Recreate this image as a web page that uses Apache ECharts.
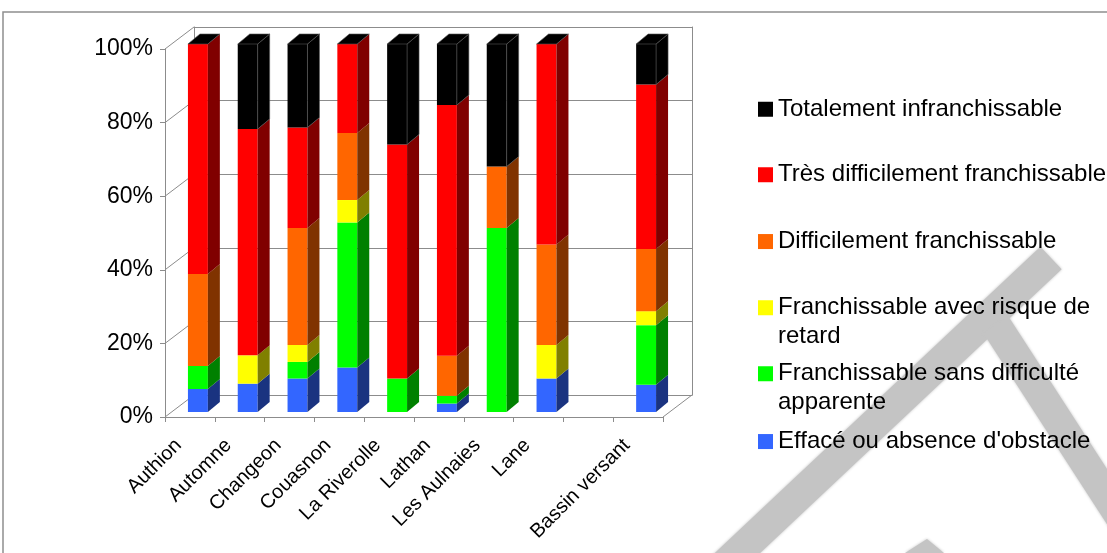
<!DOCTYPE html>
<html>
<head>
<meta charset="utf-8">
<script src="https://cdn.jsdelivr.net/npm/echarts@6/dist/echarts.min.js"></script>
<style>
  html, body { margin: 0; padding: 0; background: #ffffff; }
  #chart { width: 1107px; height: 553px; }
</style>
</head>
<body>
<div id="chart"></div>
<script>
// Rivers (and the whole catchment), with an empty slot before the total
const categories = ['Authion', 'Automne', 'Changeon', 'Couasnon', 'La Riverolle', 'Lathan', 'Les Aulnaies', 'Lane', '', 'Bassin versant'];

// Share of obstacles per passability class, in %, bottom of stack first
const effaceValues          = [6.25, 7.7, 9.1, 12.1, 0,    2.3,  0,    9.1,  null, 7.4];
const sansDifficulteValues  = [6.25, 0,   4.5, 39.4, 9.1,  2.1,  50,   0,    null, 16.2];
const risqueRetardValues    = [0,    7.7, 4.6, 6.1,  0,    0,    0,    9.1,  null, 3.8];
const difficileValues       = [25,   0,   31.8, 18.2, 0,   10.9, 16.7, 27.3, null, 16.9];
const tresDifficileValues   = [62.5, 61.5, 27.3, 24.2, 63.6, 68.1, 0,  54.5, null, 44.7];
const infranchissableValues = [0,    23.1, 22.7, 0,   27.3, 16.6, 33.3, 0,   null, 11.0];

const seriesNames = [
  "Effacé ou absence d'obstacle",
  'Franchissable sans difficulté apparente',
  'Franchissable avec risque de retard',
  'Difficilement franchissable',
  'Très difficilement franchissable',
  'Totalement infranchissable'
];
const seriesValues = [effaceValues, sansDifficulteValues, risqueRetardValues, difficileValues, tresDifficileValues, infranchissableValues];
const yTicks = [0, 20, 40, 60, 80, 100];

const FONT = "'Liberation Sans', Arial, sans-serif";
const faceColors = ['#3366ff', '#00ff00', '#ffff00', '#ff6600', '#ff0000', '#000000'];
const sideColors = ['#1a3380', '#008000', '#808000', '#803300', '#800000', '#000000'];

// oblique depth of the bars and of the box
const BAR_DX = 12, BAR_DY = -10;
const BOX_DX = 29, BOX_DY = -22;

// stacked [category, base, top] triples for each class
const stacked = seriesValues.map(() => []);
categories.forEach((c, i) => {
  let base = 0;
  seriesValues.forEach((vals, s) => {
    const v = vals[i];
    if (v == null) return;
    stacked[s].push([i, base, base + v]);
    base += v;
  });
});

function barRenderer(s) {
  const isTop = s === seriesValues.length - 1;
  return function (params, api) {
    const i = api.value(0), b = api.value(1), t = api.value(2);
    const pb = api.coord([i, b]);
    const pt = api.coord([i, t]);
    const w = api.size([1, 0])[0] * 0.4;
    const x0 = pb[0] - w / 2, x1 = pb[0] + w / 2;
    const children = [];
    if (t > b) {
      children.push({
        type: 'rect',
        shape: { x: x0, y: pt[1], width: w, height: pb[1] - pt[1] },
        style: { fill: faceColors[s] }
      });
      children.push({
        type: 'polygon',
        shape: { points: [[x1, pb[1]], [x1, pt[1]], [x1 + BAR_DX, pt[1] + BAR_DY], [x1 + BAR_DX, pb[1] + BAR_DY]] },
        style: { fill: sideColors[s], stroke: isTop ? '#555' : null, lineWidth: 0.6 }
      });
    }
    if (isTop) {
      children.push({
        type: 'polygon',
        shape: { points: [[x0, pt[1]], [x0 + BAR_DX, pt[1] + BAR_DY], [x1 + BAR_DX, pt[1] + BAR_DY], [x1, pt[1]]] },
        style: { fill: '#000000', stroke: '#555', lineWidth: 0.6 }
      });
    }
    return { type: 'group', children };
  };
}

// diagonal edges joining the front axis to the back wall
function boxRenderer(params, api) {
  const cs = params.coordSys;
  const v = api.value(1);
  const y = api.coord([0, v])[1];
  const lines = [{
    type: 'line',
    shape: { x1: cs.x, y1: y, x2: cs.x + BOX_DX, y2: y + BOX_DY },
    style: { stroke: '#8c8c8c', lineWidth: 1 }
  }];
  if (v === 0) {
    lines.push({
      type: 'line',
      shape: { x1: cs.x + cs.width, y1: y, x2: cs.x + cs.width + BOX_DX, y2: y + BOX_DY },
      style: { stroke: '#8c8c8c', lineWidth: 1 }
    });
  }
  return { type: 'group', children: lines };
}

// legend: one block per class, marker level with the first text line
const legendCenters = [108, 173.5, 240.3, 307.7, 373.8, 440.3];
const legendLines = {
  'Franchissable avec risque de retard': 'Franchissable avec risque de\nretard',
  'Franchissable sans difficulté apparente': 'Franchissable sans difficulté\napparente'
};
const LEGEND_LH = 29;
// square marker sitting at the top of a tall (two-line) item box
const TALL_MARKER = 'path://M0,0L15,0L15,15L0,15Z M0,43.95L0.05,43.95L0.05,44L0,44Z';
const legendOrder = seriesNames.slice().reverse();
const legends = legendOrder.map((name, k) => {
  const twoLines = !!legendLines[name];
  return {
    orient: 'vertical',
    left: 758,
    top: twoLines ? legendCenters[k] - 14.5 : legendCenters[k] - 13.25,
    padding: 0,
    itemWidth: 15,
    itemHeight: twoLines ? 44 : 15,
    icon: twoLines ? TALL_MARKER : 'rect',
    selectedMode: false,
    data: [name],
    formatter: n => legendLines[n] || n,
    textStyle: { fontFamily: FONT, fontSize: 24, color: '#000', lineHeight: LEGEND_LH }
  };
});

const option = {
  animation: false,
  backgroundColor: '#ffffff',
  textStyle: { fontFamily: FONT },
  graphic: [
    // soft grey strokes in the background
    { type: 'polyline', z: -5, silent: true,
      shape: { points: [[712, 577], [1051, 258]] },
      style: { stroke: '#c4c4c4', lineWidth: 31, lineCap: 'butt', shadowBlur: 3, shadowColor: '#c4c4c4' } },
    { type: 'polyline', z: -5, silent: true,
      shape: { points: [[996, 325], [1150, 563]] },
      style: { stroke: '#c4c4c4', lineWidth: 30, lineCap: 'butt', shadowBlur: 3, shadowColor: '#c4c4c4' } },
    { type: 'polygon', z: -5, silent: true,
      shape: { points: [[905, 553], [927, 539], [944, 553]] },
      style: { fill: '#c4c4c4', shadowBlur: 3, shadowColor: '#c4c4c4' } },
    // outer frame
    { type: 'rect', z: -4, silent: true,
      shape: { x: 3, y: 12, width: 1300, height: 700 },
      style: { fill: null, stroke: '#8f8f8f', lineWidth: 1.5 } }
  ],
  legend: legends,
  grid: [
    { left: 165, top: 49, width: 498, height: 368 },   // front plane: axes and labels
    { left: 194, top: 27, width: 498, height: 368 },   // back wall
    { left: 173, top: 44, width: 498, height: 368 }    // plane of the bar fronts
  ],
  xAxis: [
    { type: 'category', gridIndex: 0, data: categories,
      axisLine: { lineStyle: { color: '#8c8c8c', width: 1 } },
      axisTick: { show: true, length: 5, lineStyle: { color: '#8c8c8c' } },
      axisLabel: { interval: 0, rotate: 45, fontSize: 20, color: '#000', margin: 14,
                   padding: [0, 16, 0, 0], fontFamily: FONT },
      splitLine: { show: false } },
    { type: 'category', gridIndex: 1, data: categories,
      axisLine: { lineStyle: { color: '#8c8c8c', width: 1 } },
      axisTick: { show: false }, axisLabel: { show: false }, splitLine: { show: false } },
    { type: 'category', gridIndex: 2, data: categories, show: false }
  ],
  yAxis: [
    { type: 'value', gridIndex: 0, min: 0, max: 100, interval: 20,
      axisLine: { show: true, lineStyle: { color: '#8c8c8c', width: 1 } },
      axisTick: { show: true, length: 5, lineStyle: { color: '#8c8c8c' } },
      axisLabel: { formatter: '{value}%', fontSize: 23, color: '#000', margin: 12, fontFamily: FONT },
      splitLine: { show: false } },
    { type: 'value', gridIndex: 1, min: 0, max: 100, interval: 20,
      axisLine: { show: true, lineStyle: { color: '#8c8c8c', width: 1 } },
      axisTick: { show: false }, axisLabel: { show: false },
      splitLine: { show: true, lineStyle: { color: '#8c8c8c', width: 1 } } },
    { type: 'value', gridIndex: 1, position: 'right', min: 0, max: 100, interval: 20,
      axisLine: { show: true, lineStyle: { color: '#8c8c8c', width: 1 } },
      axisTick: { show: false }, axisLabel: { show: false }, splitLine: { show: false } },
    { type: 'value', gridIndex: 2, min: 0, max: 100, show: false }
  ],
  series: [
    { type: 'custom', name: 'box', xAxisIndex: 0, yAxisIndex: 0, silent: true, z: 1,
      data: yTicks.map(v => [0, v]), renderItem: boxRenderer }
  ].concat(seriesNames.map((name, s) => ({
    type: 'custom',
    name: name,
    xAxisIndex: 2,
    yAxisIndex: 3,
    z: 3,
    itemStyle: { color: faceColors[s] },
    encode: { x: 0, y: [1, 2] },
    data: stacked[s],
    renderItem: barRenderer(s)
  })))
};

const chart = echarts.init(document.getElementById('chart'), null, { renderer: 'canvas' });
chart.setOption(option);
</script>
</body>
</html>
